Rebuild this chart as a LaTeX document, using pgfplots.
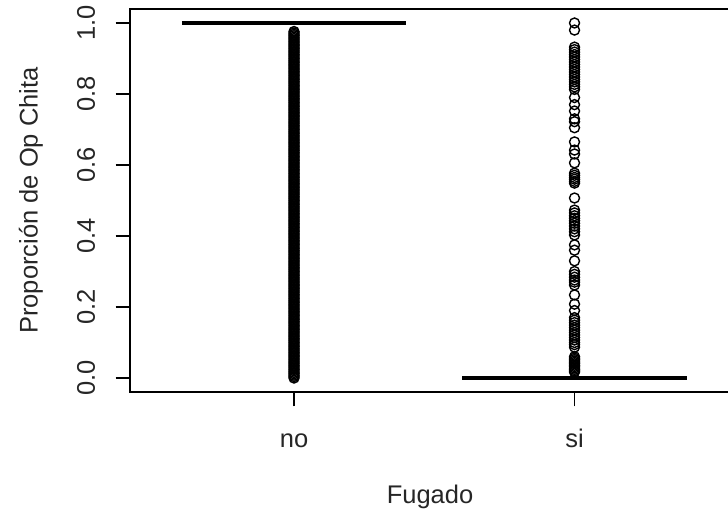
\documentclass[border=0pt]{standalone}
\usepackage{pgfplots}
\pgfplotsset{compat=1.18}
\usepackage{fontspec}
\setmainfont{Liberation Sans}

\begin{document}
\begin{tikzpicture}
\useasboundingbox (-130bp,-129bp) rectangle (598bp,392bp);
\begin{axis}[
    scale only axis,
    width=600bp, height=383bp,
    xmin=0.4153, xmax=2.5543,
    ymin=-0.0394, ymax=1.0394,
    axis line style={line width=1.2bp},
    tick style={line width=1.2bp, black},
    tick align=outside,
    tick pos=left,
    major tick length=14.4bp,
    xtick={1,2}, xticklabels={no,si},
    ytick={0,0.2,0.4,0.6,0.8,1.0},
    yticklabels={0.0,0.2,0.4,0.6,0.8,1.0},
    /pgf/number format/assume math mode=true,
    tick label style={font=\fontsize{25.5bp}{30bp}\selectfont, text=black!85},
    xticklabel style={anchor=base, yshift=-40.6bp},
    yticklabel style={rotate=90, anchor=base, yshift=20.6bp},
    label style={font=\fontsize{25.5bp}{30bp}\selectfont, text=black!85},
    xlabel={Fugado},
    ylabel={Proporción de Op Chita},
    xlabel style={at={(axis description cs:0.5,-0.2924)}, anchor=base},
    ylabel style={at={(axis description cs:-0.154,0.5)}, anchor=base},
    clip=false,
]
% outliers, group "no"
\addplot[only marks, mark=o, mark size=5bp, mark options={line width=1.4bp}, black] coordinates {
(1,0.000)(1,0.004)(1,0.008)(1,0.012)(1,0.016)(1,0.020)(1,0.024)(1,0.028)(1,0.032)(1,0.036)
(1,0.040)(1,0.044)(1,0.048)(1,0.052)(1,0.056)(1,0.060)(1,0.064)(1,0.068)(1,0.072)(1,0.076)
(1,0.080)(1,0.084)(1,0.088)(1,0.092)(1,0.096)(1,0.100)(1,0.104)(1,0.108)(1,0.112)(1,0.116)
(1,0.120)(1,0.124)(1,0.128)(1,0.132)(1,0.136)(1,0.140)(1,0.144)(1,0.148)(1,0.152)(1,0.156)
(1,0.160)(1,0.164)(1,0.168)(1,0.172)(1,0.176)(1,0.180)(1,0.184)(1,0.188)(1,0.192)(1,0.196)
(1,0.200)(1,0.204)(1,0.208)(1,0.212)(1,0.216)(1,0.220)(1,0.224)(1,0.228)(1,0.232)(1,0.236)
(1,0.240)(1,0.244)(1,0.248)(1,0.252)(1,0.256)(1,0.260)(1,0.264)(1,0.268)(1,0.272)(1,0.276)
(1,0.280)(1,0.284)(1,0.288)(1,0.292)(1,0.296)(1,0.300)(1,0.304)(1,0.308)(1,0.312)(1,0.316)
(1,0.320)(1,0.324)(1,0.328)(1,0.332)(1,0.336)(1,0.340)(1,0.344)(1,0.348)(1,0.352)(1,0.356)
(1,0.360)(1,0.364)(1,0.368)(1,0.372)(1,0.376)(1,0.380)(1,0.384)(1,0.388)(1,0.392)(1,0.396)
(1,0.400)(1,0.404)(1,0.408)(1,0.412)(1,0.416)(1,0.420)(1,0.424)(1,0.428)(1,0.432)(1,0.436)
(1,0.440)(1,0.444)(1,0.448)(1,0.452)(1,0.456)(1,0.460)(1,0.464)(1,0.468)(1,0.472)(1,0.476)
(1,0.480)(1,0.484)(1,0.488)(1,0.492)(1,0.496)(1,0.500)(1,0.504)(1,0.508)(1,0.512)(1,0.516)
(1,0.520)(1,0.524)(1,0.528)(1,0.532)(1,0.536)(1,0.540)(1,0.544)(1,0.548)(1,0.552)(1,0.556)
(1,0.560)(1,0.564)(1,0.568)(1,0.572)(1,0.576)(1,0.580)(1,0.584)(1,0.588)(1,0.592)(1,0.596)
(1,0.600)(1,0.604)(1,0.608)(1,0.612)(1,0.616)(1,0.620)(1,0.624)(1,0.628)(1,0.632)(1,0.636)
(1,0.640)(1,0.644)(1,0.648)(1,0.652)(1,0.656)(1,0.660)(1,0.664)(1,0.668)(1,0.672)(1,0.676)
(1,0.680)(1,0.684)(1,0.688)(1,0.692)(1,0.696)(1,0.700)(1,0.704)(1,0.708)(1,0.712)(1,0.716)
(1,0.720)(1,0.724)(1,0.728)(1,0.732)(1,0.736)(1,0.740)(1,0.744)(1,0.748)(1,0.752)(1,0.756)
(1,0.760)(1,0.764)(1,0.768)(1,0.772)(1,0.776)(1,0.780)(1,0.784)(1,0.788)(1,0.792)(1,0.796)
(1,0.800)(1,0.804)(1,0.808)(1,0.812)(1,0.816)(1,0.820)(1,0.824)(1,0.828)(1,0.832)(1,0.836)
(1,0.840)(1,0.844)(1,0.848)(1,0.852)(1,0.856)(1,0.860)(1,0.864)(1,0.868)(1,0.872)(1,0.876)
(1,0.880)(1,0.884)(1,0.888)(1,0.892)(1,0.896)(1,0.900)(1,0.904)(1,0.908)(1,0.912)(1,0.916)
(1,0.920)(1,0.924)(1,0.928)(1,0.932)(1,0.936)(1,0.940)(1,0.944)(1,0.948)(1,0.952)(1,0.956)
(1,0.960)(1,0.964)(1,0.968)(1,0.972)(1,0.976)
};
% outliers, group "si"
\addplot[only marks, mark=o, mark size=5bp, mark options={line width=1.4bp}, black] coordinates {
(2,1.000)(2,0.980)
(2,0.932)(2,0.925)(2,0.918)(2,0.911)(2,0.904)(2,0.897)(2,0.890)(2,0.883)(2,0.876)(2,0.869)
(2,0.862)(2,0.855)(2,0.848)(2,0.841)(2,0.834)(2,0.827)(2,0.820)(2,0.813)
(2,0.790)(2,0.770)(2,0.752)(2,0.730)(2,0.722)(2,0.705)
(2,0.665)(2,0.642)(2,0.631)(2,0.606)
(2,0.577)(2,0.571)(2,0.565)(2,0.560)(2,0.554)(2,0.549)
(2,0.507)
(2,0.473)(2,0.465)(2,0.457)(2,0.450)(2,0.443)(2,0.436)(2,0.428)(2,0.420)(2,0.412)(2,0.403)
(2,0.375)(2,0.360)(2,0.330)
(2,0.300)(2,0.292)(2,0.284)(2,0.276)(2,0.270)
(2,0.262)(2,0.234)(2,0.208)(2,0.190)
(2,0.170)(2,0.163)(2,0.156)(2,0.149)(2,0.142)(2,0.135)(2,0.128)(2,0.121)(2,0.114)(2,0.107)
(2,0.100)(2,0.094)(2,0.087)
(2,0.060)(2,0.056)(2,0.052)(2,0.048)(2,0.044)(2,0.040)(2,0.036)(2,0.032)(2,0.028)(2,0.024)
(2,0.020)(2,0.017)
};
% medians (boxes collapsed to a line)
\addplot[black, line width=4.3bp, line cap=butt] coordinates {(0.6,1) (1.4,1)};
\addplot[black, line width=4.3bp, line cap=butt] coordinates {(1.6,0) (2.4,0)};
\end{axis}
\end{tikzpicture}
\end{document}
